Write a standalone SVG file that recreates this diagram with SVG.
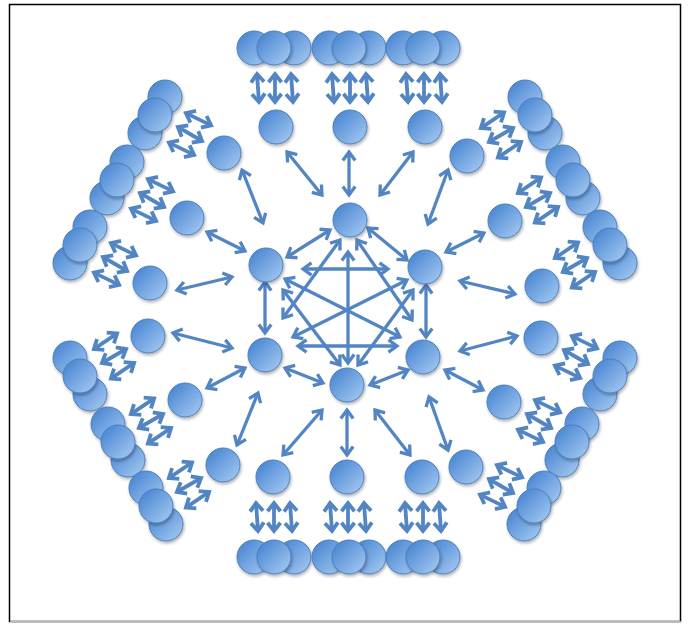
<svg xmlns="http://www.w3.org/2000/svg" width="689" height="625" viewBox="0 0 689 625">
<style>
.a{fill:none;stroke:#5285c2;stroke-width:3.3;marker-start:url(#ah);marker-end:url(#ah)}
.t{fill:none;stroke:#5285c2;stroke-width:3.8;marker-start:url(#ah2);marker-end:url(#ah2)}
.n{fill:url(#g);stroke:#4a7ebb;stroke-width:1;filter:url(#sh)}
</style>
<defs>
<linearGradient id="g" x1="0" y1="0" x2="1" y2="1">
<stop offset="0" stop-color="#3f7ecf"/>
<stop offset="1" stop-color="#a9cdf3"/>
</linearGradient>
<filter id="sh" x="-30%" y="-30%" width="160%" height="160%">
<feDropShadow dx="1" dy="2" stdDeviation="1.5" flood-color="#000" flood-opacity="0.3"/>
</filter>
<marker id="ah" viewBox="0 0 16 16" markerWidth="16" markerHeight="16" refX="13" refY="8" orient="auto-start-reverse" markerUnits="userSpaceOnUse" overflow="visible">
<path d="M4.5,1.8 L13,8 L4.5,14.2" fill="none" stroke="#5285c2" stroke-width="3.3"/>
</marker>
<marker id="ah2" viewBox="0 0 16 16" markerWidth="16" markerHeight="16" refX="13" refY="8" orient="auto-start-reverse" markerUnits="userSpaceOnUse" overflow="visible">
<path d="M4.8,1.5 L13,8 L4.8,14.5" fill="none" stroke="#5285c2" stroke-width="3.8"/>
</marker>
<g id="tri">
<line class="t" x1="-18" y1="-14" x2="-16" y2="14"/>
<line class="t" x1="0" y1="-14" x2="0" y2="14"/>
<line class="t" x1="16" y1="-14" x2="18" y2="14"/>
</g>
</defs>
<rect x="0" y="0" width="689" height="625" fill="#fff"/>
<rect x="9.5" y="4.5" width="671" height="617" fill="#fff" stroke="#000" stroke-width="1.5"/>
<line x1="10" y1="622" x2="681" y2="622" stroke="#bbb" stroke-width="2"/>

<g id="connectors">
<!-- hexagon ring -->
<line class="a" x1="330" y1="230" x2="287" y2="257"/>
<line class="a" x1="368" y1="228" x2="407" y2="260"/>
<line class="a" x1="265" y1="282" x2="265" y2="333"/>
<line class="a" x1="426" y1="285" x2="426" y2="337"/>
<line class="a" x1="285" y1="368" x2="323" y2="383"/>
<line class="a" x1="408" y1="370" x2="370" y2="385"/>
<!-- inner -->
<line class="a" x1="303" y1="269" x2="388" y2="269"/>
<line class="a" x1="298" y1="346" x2="397" y2="346"/>
<line class="a" x1="348" y1="252" x2="348" y2="363"/>
<line class="a" x1="285" y1="279" x2="400" y2="337"/>
<line class="a" x1="407" y1="280" x2="293" y2="337"/>
<line class="a" x1="340" y1="240" x2="283" y2="318"/>
<line class="a" x1="357" y1="240" x2="412" y2="320"/>
<line class="a" x1="283" y1="290" x2="340" y2="365"/>
<line class="a" x1="413" y1="290" x2="358" y2="365"/>
<!-- spokes -->
<line class="a" x1="287" y1="152" x2="322" y2="195"/>
<line class="a" x1="349" y1="152" x2="349" y2="195"/>
<line class="a" x1="413" y1="152" x2="380" y2="195"/>
<line class="a" x1="242" y1="170" x2="263" y2="223"/>
<line class="a" x1="207" y1="232" x2="245" y2="251"/>
<line class="a" x1="177" y1="290" x2="232" y2="277"/>
<line class="a" x1="448" y1="170" x2="428" y2="224"/>
<line class="a" x1="484" y1="233" x2="446" y2="252"/>
<line class="a" x1="515" y1="294" x2="460" y2="281"/>
<line class="a" x1="173" y1="333" x2="232" y2="348"/>
<line class="a" x1="207" y1="388" x2="245" y2="368"/>
<line class="a" x1="237" y1="445" x2="258" y2="393"/>
<line class="a" x1="283" y1="455" x2="322" y2="410"/>
<line class="a" x1="347" y1="410" x2="347" y2="455"/>
<line class="a" x1="410" y1="455" x2="375" y2="410"/>
<line class="a" x1="429" y1="397" x2="448" y2="450"/>
<line class="a" x1="445" y1="370" x2="483" y2="390"/>
<line class="a" x1="460" y1="351" x2="517" y2="336"/>
<!-- triple arrows -->
<use href="#tri" transform="translate(275,88)"/>
<use href="#tri" transform="translate(350,88)"/>
<use href="#tri" transform="translate(424,88)"/>
<use href="#tri" transform="translate(274,517) rotate(180)"/>
<use href="#tri" transform="translate(348,517) rotate(180)"/>
<use href="#tri" transform="translate(423,517) rotate(180)"/>
<use href="#tri" transform="translate(190,134) rotate(-60)"/>
<use href="#tri" transform="translate(152,200) rotate(-60)"/>
<use href="#tri" transform="translate(115,264) rotate(-60)"/>
<use href="#tri" transform="translate(114,356) rotate(-120)"/>
<use href="#tri" transform="translate(151,421) rotate(-120)"/>
<use href="#tri" transform="translate(189,485) rotate(-120)"/>
<use href="#tri" transform="translate(501,135) rotate(60)"/>
<use href="#tri" transform="translate(538,200) rotate(60)"/>
<use href="#tri" transform="translate(575,265) rotate(60)"/>
<use href="#tri" transform="translate(576,357) rotate(120)"/>
<use href="#tri" transform="translate(539,421) rotate(120)"/>
<use href="#tri" transform="translate(501,486) rotate(120)"/>
</g>

<!-- hexagon nodes -->
<g id="hex-top"><circle class="n" cx="350" cy="220" r="17"/></g>
<g id="hex-upper-right"><circle class="n" cx="425" cy="267" r="17"/></g>
<g id="hex-lower-right"><circle class="n" cx="423" cy="357" r="17"/></g>
<g id="hex-bottom"><circle class="n" cx="347" cy="385" r="17"/></g>
<g id="hex-lower-left"><circle class="n" cx="265" cy="355" r="17"/></g>
<g id="hex-upper-left"><circle class="n" cx="266" cy="265" r="17"/></g>

<!-- middle ring nodes -->
<g id="mid-t1"><circle class="n" cx="276" cy="127" r="17"/></g>
<g id="mid-t2"><circle class="n" cx="350" cy="127" r="17"/></g>
<g id="mid-t3"><circle class="n" cx="425" cy="127" r="17"/></g>
<g id="mid-ul1"><circle class="n" cx="224" cy="153" r="17"/></g>
<g id="mid-ul2"><circle class="n" cx="187" cy="218" r="17"/></g>
<g id="mid-ul3"><circle class="n" cx="150" cy="283" r="17"/></g>
<g id="mid-ll1"><circle class="n" cx="148" cy="336" r="17"/></g>
<g id="mid-ll2"><circle class="n" cx="185" cy="400" r="17"/></g>
<g id="mid-ll3"><circle class="n" cx="223" cy="465" r="17"/></g>
<g id="mid-b1"><circle class="n" cx="273" cy="477" r="17"/></g>
<g id="mid-b2"><circle class="n" cx="347" cy="477" r="17"/></g>
<g id="mid-b3"><circle class="n" cx="422" cy="477" r="17"/></g>
<g id="mid-ur1"><circle class="n" cx="467" cy="156" r="17"/></g>
<g id="mid-ur2"><circle class="n" cx="505" cy="221" r="17"/></g>
<g id="mid-ur3"><circle class="n" cx="542" cy="286" r="17"/></g>
<g id="mid-lr1"><circle class="n" cx="541" cy="338" r="17"/></g>
<g id="mid-lr2"><circle class="n" cx="504" cy="402" r="17"/></g>
<g id="mid-lr3"><circle class="n" cx="466" cy="467" r="17"/></g>

<!-- outer clusters -->
<g id="cl-t1"><circle class="n" cx="254" cy="48" r="17"/><circle class="n" cx="294" cy="48" r="17"/><circle class="n" cx="274" cy="48" r="17"/></g>
<g id="cl-t2"><circle class="n" cx="329" cy="48" r="17"/><circle class="n" cx="369" cy="48" r="17"/><circle class="n" cx="349" cy="48" r="17"/></g>
<g id="cl-t3"><circle class="n" cx="403" cy="48" r="17"/><circle class="n" cx="443" cy="48" r="17"/><circle class="n" cx="423" cy="48" r="17"/></g>
<g id="cl-b1"><circle class="n" cx="254" cy="557" r="17"/><circle class="n" cx="294" cy="557" r="17"/><circle class="n" cx="274" cy="557" r="17"/></g>
<g id="cl-b2"><circle class="n" cx="329" cy="557" r="17"/><circle class="n" cx="369" cy="557" r="17"/><circle class="n" cx="349" cy="557" r="17"/></g>
<g id="cl-b3"><circle class="n" cx="403" cy="557" r="17"/><circle class="n" cx="443" cy="557" r="17"/><circle class="n" cx="423" cy="557" r="17"/></g>
<g id="cl-ul1"><circle class="n" cx="165" cy="97" r="17"/><circle class="n" cx="145" cy="133" r="17"/><circle class="n" cx="155" cy="115" r="17"/></g>
<g id="cl-ul2"><circle class="n" cx="127" cy="162" r="17"/><circle class="n" cx="107" cy="198" r="17"/><circle class="n" cx="117" cy="180" r="17"/></g>
<g id="cl-ul3"><circle class="n" cx="90" cy="227" r="17"/><circle class="n" cx="70" cy="263" r="17"/><circle class="n" cx="80" cy="245" r="17"/></g>
<g id="cl-ll1"><circle class="n" cx="70" cy="358" r="17"/><circle class="n" cx="90" cy="394" r="17"/><circle class="n" cx="80" cy="376" r="17"/></g>
<g id="cl-ll2"><circle class="n" cx="108" cy="424" r="17"/><circle class="n" cx="128" cy="460" r="17"/><circle class="n" cx="118" cy="442" r="17"/></g>
<g id="cl-ll3"><circle class="n" cx="146" cy="488" r="17"/><circle class="n" cx="166" cy="524" r="17"/><circle class="n" cx="156" cy="506" r="17"/></g>
<g id="cl-ur1"><circle class="n" cx="525" cy="97" r="17"/><circle class="n" cx="545" cy="133" r="17"/><circle class="n" cx="535" cy="115" r="17"/></g>
<g id="cl-ur2"><circle class="n" cx="563" cy="162" r="17"/><circle class="n" cx="583" cy="198" r="17"/><circle class="n" cx="573" cy="180" r="17"/></g>
<g id="cl-ur3"><circle class="n" cx="600" cy="227" r="17"/><circle class="n" cx="620" cy="263" r="17"/><circle class="n" cx="610" cy="245" r="17"/></g>
<g id="cl-lr1"><circle class="n" cx="620" cy="358" r="17"/><circle class="n" cx="600" cy="394" r="17"/><circle class="n" cx="610" cy="376" r="17"/></g>
<g id="cl-lr2"><circle class="n" cx="582" cy="424" r="17"/><circle class="n" cx="562" cy="460" r="17"/><circle class="n" cx="572" cy="442" r="17"/></g>
<g id="cl-lr3"><circle class="n" cx="544" cy="488" r="17"/><circle class="n" cx="524" cy="524" r="17"/><circle class="n" cx="534" cy="506" r="17"/></g>
</svg>
